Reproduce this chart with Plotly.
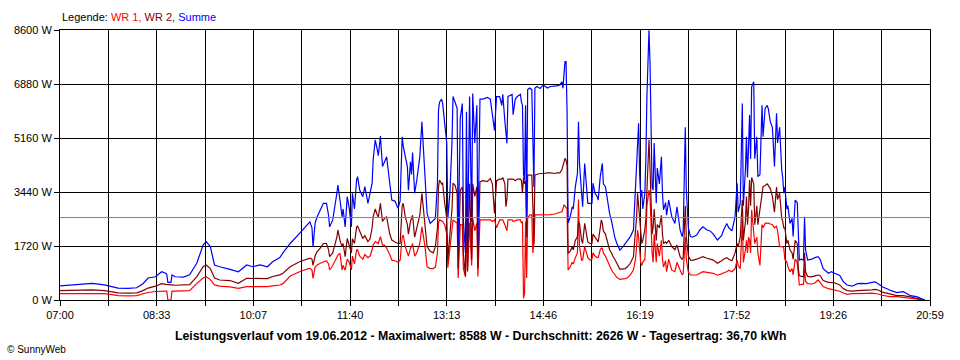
import plotly.graph_objects as go

# ---------------- data ----------------
times = [
"07:00","07:10","07:19","07:31","07:43","07:50","07:56","08:06","08:14","08:20","08:25","08:32","08:38","08:42","08:43","08:44","08:47","08:48","08:51","08:59",
"09:05","09:12","09:18","09:21","09:25","09:29","09:34","09:44","09:52","10:00","10:06","10:13","10:20","10:25","10:32","10:35","10:42","10:51",
"11:01","11:03","11:04","11:06","11:08","11:11","11:14","11:17","11:19","11:20","11:23","11:27","11:28","11:30","11:32","11:33","11:35","11:37","11:39","11:41","11:42","11:44","11:46","11:47","11:49","11:52","11:54","11:57","11:59",
"12:01","12:02","12:04","12:06","12:07","12:09","12:11","12:13","12:15","12:18","12:20","12:23","12:26","12:28","12:30","12:31","12:33","12:35","12:36","12:38","12:39","12:40","12:42","12:44","12:47","12:49","12:50","12:52","12:54","12:57",
"13:00","13:02","13:04","13:05","13:06","13:08","13:09","13:11","13:13","13:14","13:16","13:18","13:19","13:21","13:23","13:24","13:26","13:28","13:29","13:31","13:32","13:33","13:35","13:37","13:38","13:40","13:42","13:43","13:45","13:48","13:52","13:55","13:57","13:59",
"14:01","14:04","14:06","14:07","14:09","14:10","14:11","14:12","14:16","14:17","14:19","14:21","14:24","14:25","14:26","14:27","14:28","14:29","14:30","14:31","14:33","14:35","14:36","14:37","14:38","14:40","14:43","14:46","14:48","14:50","14:53","14:57","14:59",
"15:02","15:04","15:05","15:06","15:07","15:08","15:09","15:10","15:12","15:14","15:15","15:17","15:19","15:20","15:21","15:23","15:24","15:26","15:28","15:29","15:31","15:33","15:34","15:36","15:38","15:39","15:41","15:42","15:43","15:44","15:46","15:48","15:50","15:52","15:53","15:55","15:57",
"16:00","16:03","16:05","16:07","16:10","16:13","16:14","16:15","16:16","16:17","16:18","16:19","16:20","16:21","16:22","16:24","16:25","16:26","16:27","16:28","16:29","16:30","16:31","16:32","16:33","16:35","16:36","16:38","16:40","16:41","16:42","16:44","16:45","16:47","16:50","16:53","16:55","16:58",
"17:00","17:01","17:02","17:03","17:04","17:05","17:06","17:08","17:10","17:14","17:17","17:20","17:24","17:27","17:30","17:34","17:36","17:38","17:40","17:43","17:45","17:48","17:51","17:53","17:54","17:56","17:58","17:59",
"18:01","18:02","18:03","18:04","18:05","18:06","18:07","18:09","18:10","18:12","18:13","18:15","18:17","18:18","18:20","18:22","18:23","18:25","18:27","18:29","18:31","18:32","18:34","18:36","18:37","18:38","18:39","18:41","18:42","18:44","18:46","18:47","18:49","18:51","18:52","18:53","18:55","18:57","18:58","18:59",
"19:01","19:05","19:08","19:11","19:13","19:16","19:21","19:24","19:27","19:32","19:35","19:39","19:44","19:49","19:53","19:58",
"20:03","20:06","20:09","20:13","20:18","20:20","20:27","20:33","20:37","20:40","20:46","20:52","20:54",
]

summe_w = [
450,480,500,530,480,430,380,370,390,520,700,740,900,850,820,560,560,800,740,730,
800,1180,1750,1860,1700,1115,1060,977,900,1115,1060,1115,1060,1220,1350,1500,1800,2120,
2490,2300,1700,2450,2650,2870,3080,3080,2700,2330,2550,3400,3660,3185,2650,2900,2330,3290,2900,2330,3400,2900,3820,3930,3500,3290,3610,3080,3400,
3720,4460,5100,4780,4600,5220,4250,4400,4560,3720,3185,3150,2920,3150,5200,4900,4560,4250,3500,4400,4000,4700,3400,3800,4560,5680,5100,3820,2760,2440,
2550,2600,3720,6050,6300,6400,6260,5500,4990,2600,3400,5000,6480,6300,6100,1750,5800,6260,2550,1500,6000,1700,6480,2500,6580,5000,6200,1750,6400,6400,6450,6400,5800,5400,
6480,6480,6200,6550,5700,5200,4990,6480,6550,5900,6400,6480,6550,6300,6200,4000,3820,6200,2650,6700,6750,6700,4360,3600,6750,6800,6740,6850,6800,6750,6800,6800,6820,
6850,6950,6750,7300,7590,7590,6000,2450,2650,2970,2900,3610,4030,5680,4350,3400,2970,4350,3500,3080,3080,3080,3720,3400,3300,3185,3930,4100,4350,3700,3610,3185,2760,2500,2330,2000,1800,
1590,1700,1800,1910,2020,2230,2870,3500,4350,5200,5630,4000,3290,3500,2900,3400,4500,6500,7540,8588,7540,4990,3600,3500,5000,3080,4200,3700,4560,3400,2870,3100,2700,3185,2650,2440,2970,2230,
2020,2200,4000,5500,3500,2650,2300,2020,2000,2070,2230,2330,2230,2200,2100,1910,1970,2050,2230,2440,2300,2200,2650,3720,2800,3080,6260,3000,
4140,5200,3900,5200,5890,4500,6790,6950,4500,5200,3930,4000,6200,5200,6100,6200,6100,5680,5500,4250,5950,5000,5500,4140,3900,3400,3600,2900,3000,2440,2600,2020,3185,3100,1700,1270,1300,1270,2650,1600,
1270,1300,1350,1380,1300,1000,850,900,850,780,600,478,440,520,530,520,
560,580,520,424,350,318,233,265,200,138,106,21,0,
]

wr2_w = [
300,310,310,320,300,260,230,220,230,300,380,440,520,500,500,490,490,480,470,478,
490,743,1060,1115,1000,700,637,620,530,690,680,690,680,750,800,850,1060,1220,
1330,1300,1100,1400,1540,1650,1800,1800,1600,1380,1500,2000,2230,1900,1700,1800,1380,1960,1700,1500,1950,1800,2330,2350,2200,1960,2050,1860,1950,
2300,2650,2900,2700,2650,3080,2500,2600,2650,2100,1910,1850,1800,1800,3000,3080,2650,2400,2100,2500,2650,2700,2000,2300,2700,3400,3100,2300,1700,1550,
1500,1700,2300,3600,3820,3700,3720,3080,2600,1270,2100,2900,3720,3650,3400,1000,3500,3600,1500,750,3600,950,3700,1300,3700,3300,3600,1000,3770,3800,3770,3870,3700,2760,
3800,3850,3850,3900,3700,2970,3200,3850,3850,3850,3800,3850,3850,3800,3400,3900,3700,3800,2000,3980,3980,3980,3000,1800,3980,4000,4030,4030,4050,4050,4050,4030,4050,
4050,4150,4250,4400,4510,4450,4300,1490,1550,1700,1600,1900,2020,2500,2440,1900,1800,2440,2000,1850,1800,1800,2100,2000,1900,1850,2300,2550,2450,2200,2100,1800,1600,1490,1400,1300,1170,
977,990,1000,1050,1170,1380,1700,2230,2600,3400,3000,2700,2200,1800,1900,2230,2600,3500,4300,5100,4200,2900,2100,2300,2900,1900,2400,2300,2700,2100,1800,1850,1800,1900,1700,1600,1750,1380,
1300,1350,2300,3000,2000,1600,1400,1270,1260,1300,1350,1380,1330,1300,1270,1170,1200,1250,1300,1350,1300,1250,1500,1800,1700,2000,3185,1900,
2500,3300,2400,2900,3820,3000,3900,3700,2400,3000,2400,2900,3300,3610,3650,3700,3650,3550,3300,2800,3600,3200,3400,2600,2500,2300,2300,1800,1900,1600,1500,1300,1900,1800,1000,780,750,743,1500,900,
750,740,770,796,780,620,560,560,550,480,372,300,280,297,300,297,
320,340,320,250,212,190,138,140,130,100,54,15,0,
]

wr1_w = [
200,200,210,210,200,170,140,130,140,200,240,270,290,280,280,0,0,280,280,290,
300,530,700,743,650,480,445,420,372,424,420,430,424,450,478,520,765,900,
1010,950,690,1050,1115,1170,1220,1250,1150,955,1100,1350,1430,1490,960,1100,950,1300,1200,960,1400,1150,1590,1600,1400,1300,1450,1350,1400,
1600,1750,1860,1800,1800,2020,1750,1750,1650,1450,1270,1250,1200,1270,2000,2070,1700,1500,1400,1650,1700,1800,1400,1500,1800,2330,2100,1700,1060,1000,
1000,1050,1500,2450,2550,2500,2500,2400,2100,1030,1650,2100,2550,2500,2450,700,2400,2400,1000,743,2450,900,2450,1100,2600,2200,2450,750,2550,2550,2550,2550,2500,2550,
2300,2550,2550,2550,2400,2250,2200,2550,2550,2500,2530,2550,2550,2450,2500,60,200,2500,700,2600,2710,2710,1500,1800,2710,2710,2710,2720,2710,2720,2720,2740,2760,
2780,2810,2900,3025,3000,2950,2900,955,1050,1200,1150,1350,1500,3200,1700,1270,1270,1700,1500,1350,1270,1300,1500,1400,1350,1350,1600,1650,1645,1500,1400,1250,1060,950,900,796,720,
658,660,680,700,800,955,1100,1300,1700,2230,2000,1600,1200,1100,1200,1300,1900,3000,3300,3500,3300,2100,1500,1200,2100,1200,1800,1400,1900,1300,1050,1250,900,1300,950,900,1200,955,
800,850,1600,2000,1300,1000,880,796,790,796,850,900,880,870,850,790,800,830,870,900,950,900,1000,1270,1100,1000,2550,1200,
1600,1900,1500,2000,1900,1500,2870,2200,1800,2000,1500,1100,2400,2300,2440,2450,2450,2420,2400,2300,2350,2200,1700,1700,1700,1650,1300,1200,1060,900,1000,800,1300,1200,700,478,500,500,1000,600,
520,510,540,637,560,430,360,340,330,280,230,180,200,212,215,212,
220,210,190,150,120,110,106,90,74,60,32,5,0,
]

y_tick_values = [0, 1720, 3440, 5160, 6880, 8600]
y_tick_labels = ["0 W", "1720 W", "3440 W", "5160 W", "6880 W", "8600 W"]
x_tick_labels = ["07:00", "08:33", "10:07", "11:40", "13:13", "14:46", "16:19", "17:52", "19:26", "20:59"]
average_w = 2626
title_text = ("Leistungsverlauf vom 19.06.2012 - Maximalwert: 8588 W - "
              "Durchschnitt: 2626 W - Tagesertrag: 36,70 kWh")

# ---------------- helpers ----------------
def to_min(s):
    h, m = s.split(":")
    return (int(h) - 7) * 60 + int(m)

x = [to_min(t) for t in times]
x_end = to_min(x_tick_labels[-1])          # 20:59
n_div = 2 * (len(x_tick_labels) - 1)        # 18 grid intervals
x_tick_vals = [x_end * i / n_div for i in range(n_div + 1)]
x_tick_text = [x_tick_labels[i // 2] if i % 2 == 0 else "" for i in range(n_div + 1)]

FONT = "Liberation Sans"
LW = 1.2

fig = go.Figure()
fig.add_trace(go.Scatter(x=x, y=wr1_w, mode="lines", name="WR 1",
                         line=dict(color="#FF0000", width=LW)))
fig.add_trace(go.Scatter(x=x, y=wr2_w, mode="lines", name="WR 2",
                         line=dict(color="#800000", width=LW)))
fig.add_trace(go.Scatter(x=x, y=summe_w, mode="lines", name="Summe",
                         line=dict(color="#0000FF", width=LW)))

fig.add_shape(type="line", xref="paper", x0=0, x1=1, yref="y", y0=average_w, y1=average_w,
              line=dict(color="#808080", width=1), layer="above")

fig.update_layout(
    width=960, height=360,
    margin=dict(l=60, r=30, t=30, b=60),
    paper_bgcolor="white", plot_bgcolor="white",
    showlegend=False,
    font=dict(family=FONT, size=11, color="black"),
    xaxis=dict(range=[0, x_end], tickvals=x_tick_vals, ticktext=x_tick_text,
               showgrid=True, gridcolor="black", gridwidth=1,
               showline=True, linecolor="black", linewidth=1, mirror=True,
               ticks="outside", ticklen=5, tickcolor="black", zeroline=False,
               tickfont=dict(family=FONT, size=11, color="black")),
    yaxis=dict(range=[0, 8600], tickvals=y_tick_values, ticktext=y_tick_labels,
               showgrid=True, gridcolor="black", gridwidth=1,
               showline=True, linecolor="black", linewidth=1, mirror=True,
               ticks="outside", ticklen=5, tickcolor="black", zeroline=False,
               tickfont=dict(family=FONT, size=11, color="black")),
    annotations=[
        dict(xref="paper", yref="paper", x=0, y=1 + 13 / 270, xanchor="left", yanchor="middle",
             showarrow=False, font=dict(family=FONT, size=11, color="black"),
             text="Legende: <span style='color:#FF0000'>WR 1,</span> "
                  "<span style='color:#800000'>WR 2,</span> "
                  "<span style='color:#0000FF'>Summe</span>"),
        dict(xref="paper", yref="paper", x=(480 - 60) / 870, y=-36 / 270, xanchor="center",
             yanchor="middle", showarrow=False,
             font=dict(family=FONT, size=12.3, color="black"),
             text="<b>" + title_text + "</b>"),
        dict(xref="paper", yref="paper", x=-55 / 870, y=-49 / 270, xanchor="left",
             yanchor="middle", showarrow=False,
             font=dict(family=FONT, size=10, color="black"),
             text="© SunnyWeb"),
    ],
)

fig.write_html(
    "out.html",
    config={"displayModeBar": False},
    post_script="document.body.style.margin='0';document.body.style.overflow='hidden';",
)
